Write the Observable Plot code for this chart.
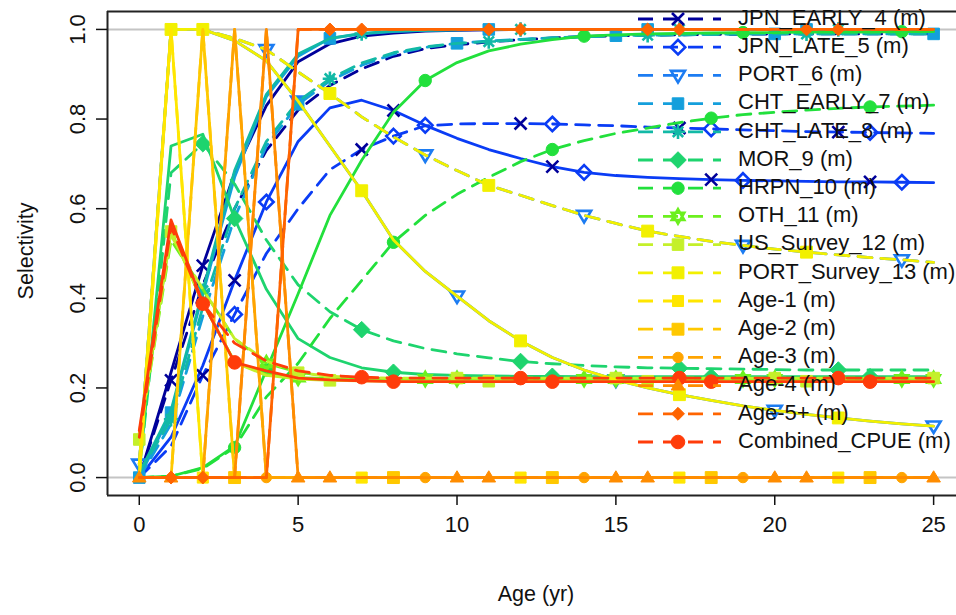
<!DOCTYPE html>
<html><head><meta charset="utf-8">
<script src="https://cdn.jsdelivr.net/npm/d3@7"></script>
<script src="https://cdn.jsdelivr.net/npm/@observablehq/plot@0.6"></script>
<style>
body{margin:0;background:#fff;}
#chart{position:relative;width:956px;height:615px;overflow:hidden;}
svg text{font-family:"Liberation Sans",Arial,sans-serif;}
</style></head><body><div id="chart"></div>
<script>
// ---------------- data ----------------
const ages = d3.range(0, 26);
const xTicks = [0, 5, 10, 15, 20, 25];
const yTicks = [0, 0.2, 0.4, 0.6, 0.8, 1.0];

const fleetNames = ["JPN_EARLY_4","JPN_LATE_5","PORT_6","CHT_EARLY_7","CHT_LATE_8","MOR_9","HRPN_10","OTH_11","US_Survey_12","PORT_Survey_13","Age-1","Age-2","Age-3","Age-4","Age-5+","Combined_CPUE"];
const fleetColors = ["#00009A","#0A3CF5","#1C7CF2","#149FDC","#12B9A6","#1ED46E","#22E03C","#6CF01E","#C4F02A","#F2F000","#FFE600","#FFC800","#FFA400","#FF8C00","#FF6400","#FF3C0A"];

const jpnEarlyF = [0.000,0.235,0.473,0.680,0.830,0.928,0.968,0.985,0.992,0.996,0.998,0.999,1,1,1,1,1,1,1,1,1,1,1,1,1,1];
const jpnEarlyM = [0.000,0.217,0.430,0.600,0.730,0.820,0.875,0.912,0.940,0.957,0.966,0.972,0.977,0.981,0.984,0.986,0.987,0.988,0.989,0.989,0.990,0.990,0.990,0.990,0.990,0.990];
const jpnLateF = [0.000,0.090,0.250,0.440,0.615,0.750,0.825,0.842,0.819,0.786,0.757,0.732,0.712,0.694,0.681,0.674,0.670,0.667,0.665,0.663,0.662,0.661,0.660,0.660,0.659,0.658];
const jpnLateM = [0.000,0.070,0.228,0.364,0.500,0.600,0.687,0.732,0.762,0.785,0.789,0.790,0.790,0.789,0.787,0.785,0.782,0.780,0.778,0.776,0.774,0.772,0.771,0.770,0.769,0.768];
const portF = [0.030,1.000,1.000,0.975,0.930,0.840,0.740,0.640,0.530,0.460,0.405,0.350,0.305,0.268,0.240,0.218,0.200,0.185,0.172,0.160,0.150,0.141,0.133,0.126,0.120,0.115];
const portM = [0.030,1.000,1.000,0.980,0.955,0.905,0.857,0.805,0.760,0.720,0.685,0.652,0.630,0.607,0.585,0.567,0.550,0.538,0.527,0.518,0.510,0.503,0.497,0.491,0.486,0.480];
const chtEarlyF = [0.000,0.145,0.410,0.670,0.850,0.940,0.980,0.990,0.995,0.998,0.999,1,1,1,1,1,1,1,1,1,1,1,1,1,1,1];
const chtEarlyM = [0.000,0.120,0.360,0.580,0.740,0.833,0.885,0.920,0.945,0.960,0.969,0.974,0.978,0.981,0.984,0.986,0.987,0.988,0.989,0.990,0.990,0.990,0.990,0.990,0.990,0.990];
const chtLateF = [0.010,0.150,0.417,0.685,0.855,0.945,0.980,0.991,0.996,0.998,0.999,1,1,1,1,1,1,1,1,1,1,1,1,1,1,1];
const chtLateM = [0.010,0.130,0.380,0.600,0.750,0.840,0.890,0.925,0.948,0.961,0.969,0.973,0.977,0.981,0.984,0.986,0.987,0.988,0.989,0.990,0.990,0.990,0.990,0.990,0.990,0.990];
const morF = [0.010,0.740,0.766,0.578,0.420,0.310,0.268,0.245,0.235,0.230,0.228,0.227,0.226,0.226,0.225,0.225,0.225,0.225,0.225,0.225,0.225,0.225,0.225,0.225,0.225,0.225];
const morM = [0.010,0.680,0.745,0.655,0.530,0.430,0.370,0.330,0.305,0.288,0.276,0.267,0.259,0.254,0.250,0.247,0.245,0.244,0.243,0.242,0.241,0.240,0.240,0.240,0.240,0.240];
const hrpnF = [0.000,0.003,0.022,0.070,0.240,0.410,0.585,0.708,0.815,0.886,0.926,0.952,0.967,0.977,0.985,0.988,0.990,0.991,0.992,0.993,0.993,0.994,0.994,0.994,0.995,0.995];
const hrpnM = [0.000,0.003,0.020,0.067,0.180,0.255,0.355,0.440,0.525,0.585,0.632,0.670,0.705,0.732,0.752,0.768,0.780,0.792,0.802,0.810,0.815,0.820,0.824,0.827,0.829,0.831];
const othF = [0.090,0.550,0.390,0.258,0.230,0.223,0.221,0.220,0.220,0.220,0.220,0.220,0.220,0.220,0.220,0.220,0.220,0.220,0.220,0.220,0.220,0.220,0.220,0.220,0.220,0.220];
const othM = [0.085,0.530,0.420,0.310,0.255,0.235,0.226,0.222,0.221,0.220,0.220,0.220,0.220,0.220,0.220,0.220,0.220,0.220,0.220,0.220,0.220,0.220,0.220,0.220,0.220,0.220];
const usSurvF = [0.100,0.549,0.390,0.257,0.228,0.220,0.217,0.216,0.215,0.215,0.215,0.215,0.215,0.215,0.215,0.215,0.215,0.215,0.215,0.215,0.215,0.215,0.215,0.215,0.215,0.215];
const usSurvM = [0.085,0.540,0.420,0.310,0.260,0.234,0.226,0.223,0.222,0.222,0.222,0.222,0.222,0.222,0.222,0.222,0.222,0.222,0.222,0.222,0.222,0.222,0.222,0.222,0.222,0.222];
const portSurvF = [0.030,1.000,1.000,0.975,0.930,0.840,0.740,0.640,0.530,0.460,0.405,0.350,0.305,0.268,0.240,0.218,0.200,0.185,0.172,0.160,0.150,0.141,0.133,0.126,0.120,0.115];
const portSurvM = [0.030,1.000,1.000,0.980,0.955,0.905,0.857,0.805,0.760,0.720,0.685,0.652,0.630,0.607,0.585,0.567,0.550,0.538,0.527,0.518,0.510,0.503,0.497,0.491,0.486,0.480];
const age1Sel = [0,1,0,0,0,0,0,0,0,0,0,0,0,0,0,0,0,0,0,0,0,0,0,0,0,0];
const age2Sel = [0,0,1,0,0,0,0,0,0,0,0,0,0,0,0,0,0,0,0,0,0,0,0,0,0,0];
const age3Sel = [0,0,0,1,0,0,0,0,0,0,0,0,0,0,0,0,0,0,0,0,0,0,0,0,0,0];
const age4Sel = [0,0,0,0,1,0,0,0,0,0,0,0,0,0,0,0,0,0,0,0,0,0,0,0,0,0];
const age5Sel = [0,0,0,0,0,1,1,1,1,1,1,1,1,1,1,1,1,1,1,1,1,1,1,1,1,1];
const cpueF = [0.105,0.575,0.390,0.257,0.238,0.222,0.218,0.216,0.214,0.214,0.214,0.214,0.214,0.214,0.214,0.214,0.214,0.214,0.214,0.214,0.214,0.214,0.214,0.214,0.214,0.214];
const cpueM = [0.090,0.560,0.388,0.300,0.260,0.238,0.228,0.224,0.222,0.222,0.222,0.222,0.222,0.222,0.222,0.222,0.222,0.222,0.222,0.222,0.222,0.222,0.222,0.222,0.222,0.222];

// ages at which markers are drawn on the female (solid) and male (dashed) curves
const markAgesF = [[2],[4,9,14,19,24],[0,5,10,15,20,25],[1,6,11,16,21],[2,7,12,17,22],[3,8,13,18,23],[4,9,14,19,24],[5,10,15,20,25],[1,6,11,16,21],[2,7,12,17,22],[2,7,12,17,22],[3,8,13,18,23],[4,9,14,19,24],[0,5,10,15,20,25],[1,6,11,16,21],[3,8,13,18,23]];
const markAgesM = [[1],[3,8,13,18,23],[4,9,14,19,24],[0,5,10,15,20,25],[1,6,11,16,21],[2,7,12,17,22],[3,8,13,18,23],[4,9,14,19,24],[0,5,10,15,20,25],[1,6,11,16,21],[],[],[],[1,6,11,16,21],[2,7,12,17,22],[2,7,12,17,22]];
// JPN_EARLY_4 crosses that sit on the JPN_LATE_5 curves
const jpnEarlyOnLateF = [3,8,13,18,23];
const jpnEarlyOnLateM = [2,7,12,17,22];

// ---------------- symbols ----------------
const R = s => Math.sqrt(s / Math.PI);
const symX = {draw(c,s){const r=R(s);c.moveTo(-r,-r);c.lineTo(r,r);c.moveTo(r,-r);c.lineTo(-r,r);}};
const symDiamond = {draw(c,s){const r=R(s)*1.15;c.moveTo(0,-r);c.lineTo(r,0);c.lineTo(0,r);c.lineTo(-r,0);c.closePath();}};
const symTriDown = {draw(c,s){const r=R(s);c.moveTo(-r,-0.65*r);c.lineTo(r,-0.65*r);c.lineTo(0,r);c.closePath();}};
const symTriUp = {draw(c,s){const r=R(s);c.moveTo(-r,0.65*r);c.lineTo(r,0.65*r);c.lineTo(0,-r);c.closePath();}};
const symSquare = {draw(c,s){const r=R(s)*0.85;c.rect(-r,-r,2*r,2*r);}};
const symCircle = {draw(c,s){const r=R(s);c.moveTo(r,0);c.arc(0,0,r,0,2*Math.PI);}};
const symAst = {draw(c,s){const r=R(s);const d=r*0.72;c.moveTo(0,-r);c.lineTo(0,r);c.moveTo(-r,0);c.lineTo(r,0);c.moveTo(-d,-d);c.lineTo(d,d);c.moveTo(d,-d);c.lineTo(-d,d);}};
const symStar6 = {draw(c,s){const r=R(s);const h=r*0.5,w=r*0.87;c.moveTo(0,-r);c.lineTo(w,h);c.lineTo(-w,h);c.closePath();c.moveTo(0,r);c.lineTo(w,-h);c.lineTo(-w,-h);c.closePath();}};

// per fleet marker style: symbol, radius, filled?
const fleetSym = [symX,symDiamond,symTriDown,symSquare,symAst,symDiamond,symCircle,symStar6,symSquare,symSquare,symSquare,symSquare,symCircle,symTriUp,symDiamond,symCircle];
const fleetR = [6,6.3,7,6.8,7.2,7.2,6.2,7.2,6.8,7,6.5,7,5.2,6.8,5.6,6.8];
const fleetFilled = [false,false,false,true,false,true,true,false,true,true,true,true,true,true,true,true];

const curvesF = [jpnEarlyF,jpnLateF,portF,chtEarlyF,chtLateF,morF,hrpnF,othF,usSurvF,portSurvF,age1Sel,age2Sel,age3Sel,age4Sel,age5Sel,cpueF];
const curvesM = [jpnEarlyM,jpnLateM,portM,chtEarlyM,chtLateM,morM,hrpnM,othM,usSurvM,portSurvM,age1Sel,age2Sel,age3Sel,age4Sel,age5Sel,cpueM];

const rows = arr => ages.map((a,i)=>({age:a, sel:arr[i]}));
const pts = (arr, list) => list.map(a=>({age:a, sel:arr[a]}));

function dotMark(data, i, extra={}) {
  const filled = fleetFilled[i];
  return Plot.dot(data, {x:"age", y:"sel", symbol: fleetSym[i], r: fleetR[i],
    fill: filled ? fleetColors[i] : "none", stroke: fleetColors[i],
    strokeWidth: filled ? 1 : 2.6, ...extra});
}

const marks = [
  Plot.ruleY([0, 1], {stroke:"#c4c4c4", strokeWidth:2})
];
fleetNames.forEach((n,i)=>{
  marks.push(Plot.line(rows(curvesF[i]), {x:"age", y:"sel", stroke: fleetColors[i], strokeWidth:2.8}));
  marks.push(Plot.line(rows(curvesM[i]), {x:"age", y:"sel", stroke: fleetColors[i], strokeWidth:2.8, strokeDasharray:"14,9"}));
  if (i === 1) {
    marks.push(dotMark(pts(jpnLateF, jpnEarlyOnLateF), 0));
    marks.push(dotMark(pts(jpnLateM, jpnEarlyOnLateM), 0));
  }
  marks.push(dotMark(pts(curvesF[i], markAgesF[i]), i));
  marks.push(dotMark(pts(curvesM[i], markAgesM[i]), i));
});

const xDomain = [-1, 25.72];
const yDomain = [-0.04, 1.04];
marks.push(
  Plot.ruleX([xDomain[0]], {stroke:"#222", strokeWidth:2}),
  Plot.ruleY(yDomain, {stroke:"#222", strokeWidth:2}),
  Plot.axisX({ticks: xTicks, tickSize: 10, tickPadding: 11, fontSize: 22, label: null, tickFormat: d=>String(d), strokeWidth:1.5}),
  Plot.axisY({ticks: yTicks, tickSize: 11, tickFormat: () => "", label: null, strokeWidth:1.5}),
  Plot.text(yTicks, {y: d=>d, frameAnchor:"left", dx:-30, rotate:-90, text: d=>d3.format(".1f")(d), fontSize:22, textAnchor:"middle", lineAnchor:"middle", fill:"#111"})
);

const plot = Plot.plot({
  width: 956, height: 615,
  marginLeft: 107, marginRight: 0, marginTop: 11, marginBottom: 120,
  x: {domain: xDomain},
  y: {domain: yDomain},
  style: {fontFamily: '"Liberation Sans", Arial, sans-serif', fontSize: "21px", background: "white", color:"#111"},
  marks
});
document.getElementById("chart").appendChild(plot);

// ---------------- axis titles & legend ----------------
const svg = d3.select(plot);
svg.append("text").attr("x", 536).attr("y", 595).attr("text-anchor","middle").attr("dominant-baseline","middle")
  .attr("font-size", 21.5).attr("fill","#111").text("Age (yr)");
svg.append("text").attr("transform","translate(27,251) rotate(-90)").attr("text-anchor","middle").attr("dominant-baseline","middle")
  .attr("font-size", 21.5).attr("fill","#111").text("Selectivity");

const lg = svg.append("g").attr("text-anchor","start");
fleetNames.forEach((n,i)=>{
  const y = 19 + 28.2*i;
  lg.append("line").attr("x1",638).attr("x2",721).attr("y1",y).attr("y2",y)
    .attr("stroke",fleetColors[i]).attr("stroke-width",2.8).attr("stroke-dasharray","15,10");
  const filled = fleetFilled[i];
  lg.append("path").attr("transform",`translate(678,${y})`)
    .attr("d", d3.symbol(fleetSym[i], Math.PI*fleetR[i]*fleetR[i])())
    .attr("fill", filled ? fleetColors[i] : "none").attr("stroke", fleetColors[i])
    .attr("stroke-width", filled ? 1 : 2.6);
  lg.append("text").attr("x",738).attr("y",y).attr("dominant-baseline","middle").attr("text-anchor","start")
    .attr("font-size",22).attr("fill","#111").text(n + " (m)");
});
</script></body></html>
